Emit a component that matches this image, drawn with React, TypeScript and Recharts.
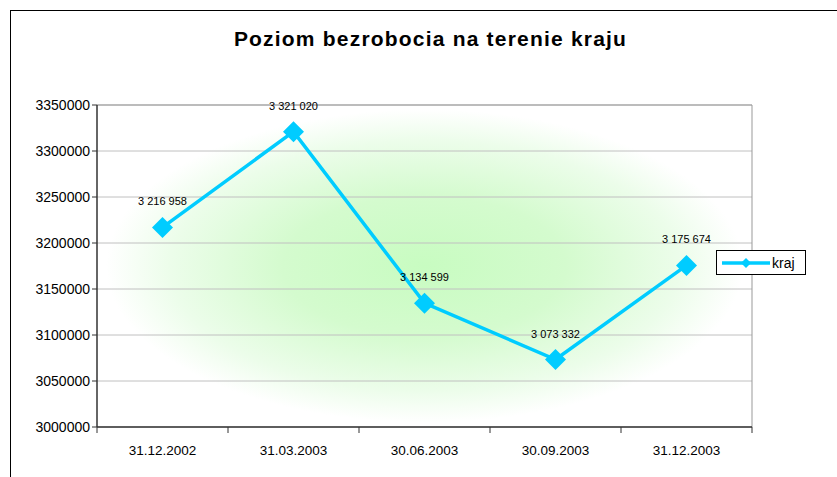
import React from "react";
import {
  CartesianGrid,
  LabelList,
  Line,
  LineChart,
  ReferenceLine,
  XAxis,
  YAxis,
} from "recharts";

const dates = ["31.12.2002", "31.03.2003", "30.06.2003", "30.09.2003", "31.12.2003"];
const unemployed = [3216958, 3321020, 3134599, 3073332, 3175674];
const yTicks = [3000000, 3050000, 3100000, 3150000, 3200000, 3250000, 3300000, 3350000];

const chartData = dates.map((date, i) => ({ date, kraj: unemployed[i] }));

const W = 837;
const H = 477;
const PLOT_LEFT = 97;
const PLOT_RIGHT = 752;
const BAND = (PLOT_RIGHT - PLOT_LEFT) / dates.length;
const LINE_COLOR = "#00ccff";
const FONT = "'Liberation Sans', Arial, sans-serif";

const fmt = (v: number) => String(v).replace(/\B(?=(\d{3})+(?!\d))/g, " ");

const Diamond = (props: any) => {
  const { cx, cy } = props;
  if (cx == null || cy == null) return null;
  const r = 10.5;
  return (
    <polygon
      points={`${cx},${cy - r} ${cx + r},${cy} ${cx},${cy + r} ${cx - r},${cy}`}
      fill={LINE_COLOR}
    />
  );
};

const DateTick = (props: any) => {
  const { x, y, payload, index } = props;
  const left = x - BAND / 2;
  return (
    <g>
      <line x1={left} y1={y - 8} x2={left} y2={y - 2} stroke="#333" />
      {index === dates.length - 1 && (
        <line x1={x + BAND / 2} y1={y - 8} x2={x + BAND / 2} y2={y - 2} stroke="#333" />
      )}
      <text x={x} y={y + 20} textAnchor="middle" fontSize={13.5} fill="#000" fontFamily={FONT}>
        {payload.value}
      </text>
    </g>
  );
};

const LegendBox = () => (
  <div
    style={{
      position: "absolute",
      left: 716,
      top: 250,
      width: 88,
      height: 23,
      border: "1px solid #000",
      background: "#fff",
      display: "flex",
      alignItems: "center",
      fontFamily: FONT,
      fontSize: 14,
    }}
  >
    <svg width={54} height={20}>
      <line x1={5} y1={10} x2={53} y2={10} stroke={LINE_COLOR} strokeWidth={3.5} />
      <polygon points="29,5 34,10 29,15 24,10" fill={LINE_COLOR} />
    </svg>
    <span style={{ marginLeft: 1 }}>kraj</span>
  </div>
);

export default function App() {
  return (
    <div style={{ position: "fixed", left: 0, top: 0, width: W, height: H, background: "#fff", overflow: "hidden" }}>
      <div
        style={{
          position: "absolute",
          left: 10,
          top: 10,
          width: W,
          height: H,
          borderLeft: "1.5px solid #000",
          borderTop: "1.5px solid #000",
        }}
      />
      <div
        style={{
          position: "absolute",
          left: 12,
          top: 27,
          width: W,
          textAlign: "center",
          fontFamily: FONT,
          fontWeight: "bold",
          fontSize: 21,
          letterSpacing: 1.2,
        }}
      >
        Poziom bezrobocia na terenie kraju
      </div>
      <div style={{ position: "absolute", left: 0, top: 0 }}>
        <LineChart
          width={W}
          height={H}
          data={chartData}
          margin={{ top: 105, right: W - PLOT_RIGHT, bottom: 10, left: 0 }}
        >
          <defs>
            <radialGradient id="glow" cx="0.5" cy="0.5" r="0.54">
              <stop offset="0%" stopColor="#c8fcc1" />
              <stop offset="40%" stopColor="#d4fbce" />
              <stop offset="72%" stopColor="#ecfdea" />
              <stop offset="90%" stopColor="#ffffff" />
            </radialGradient>
          </defs>
          <CartesianGrid vertical={false} stroke="#c0c0c0" fill="url(#glow)" fillOpacity={1} />
          <CartesianGrid
            horizontal={false}
            stroke="#999"
            verticalCoordinatesGenerator={({ offset }: any) => [offset.left + offset.width]}
          />
          <XAxis
            dataKey="date"
            scale="band"
            height={40}
            axisLine={{ stroke: "#333", strokeWidth: 1.5 }}
            tickLine={false}
            tick={<DateTick />}
            interval={0}
          />
          <YAxis
            width={PLOT_LEFT}
            domain={[3000000, 3350000]}
            ticks={yTicks}
            interval={0}
            axisLine={{ stroke: "#333", strokeWidth: 1.5 }}
            tickLine={{ stroke: "#333" }}
            tickSize={5}
            tick={{ fontSize: 14, fill: "#000", fontFamily: FONT }}
          />
          <ReferenceLine y={3350000} stroke="#999" />
          <Line
            type="linear"
            dataKey="kraj"
            stroke={LINE_COLOR}
            strokeWidth={3.5}
            dot={<Diamond />}
            activeDot={false}
            isAnimationActive={false}
          >
            <LabelList
              dataKey="kraj"
              position="top"
              offset={22}
              formatter={(v: any) => fmt(Number(v))}
              style={{ fontSize: 11, fill: "#000", fontFamily: FONT }}
            />
          </Line>
        </LineChart>
      </div>
      <LegendBox />
    </div>
  );
}
